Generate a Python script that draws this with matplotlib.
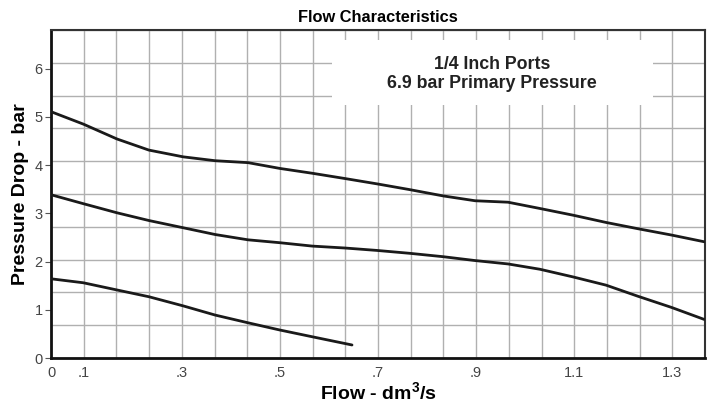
import numpy as np
import matplotlib.pyplot as plt
from matplotlib.patches import Rectangle

plt.rcParams["font.family"] = ["Liberation Sans", "DejaVu Sans"]
plt.rcParams["mathtext.fontset"] = "custom"
plt.rcParams["mathtext.rm"] = "Liberation Sans:bold"
plt.rcParams["mathtext.bf"] = "Liberation Sans:bold"

# Flow in dm3/s, pressure drop in bar
upper_flow = [0.035, 0.099, 0.168, 0.233, 0.303, 0.368, 0.435, 0.500, 0.566, 0.633,
              0.698, 0.765, 0.833, 0.898, 0.965, 1.030, 1.098, 1.165, 1.230, 1.298, 1.365]
upper_drop = [5.10, 4.85, 4.54, 4.31, 4.17, 4.09, 4.05, 3.93, 3.83, 3.72,
              3.61, 3.49, 3.36, 3.26, 3.23, 3.10, 2.96, 2.81, 2.68, 2.55, 2.41]

middle_flow = [0.035, 0.099, 0.168, 0.233, 0.303, 0.368, 0.435, 0.500, 0.566, 0.633,
               0.698, 0.765, 0.833, 0.898, 0.965, 1.030, 1.098, 1.165, 1.230, 1.298, 1.365]
middle_drop = [3.38, 3.20, 3.01, 2.85, 2.70, 2.56, 2.45, 2.39, 2.32, 2.28,
               2.23, 2.17, 2.10, 2.02, 1.95, 1.84, 1.68, 1.51, 1.28, 1.05, 0.80]

lower_flow = [0.035, 0.099, 0.168, 0.233, 0.303, 0.368, 0.435, 0.500, 0.566, 0.647]
lower_drop = [1.64, 1.56, 1.41, 1.27, 1.08, 0.89, 0.73, 0.58, 0.44, 0.27]

x_tick_pos = [1 / 30, 0.1, 0.3, 0.5, 0.7, 0.9, 1.1, 1.3]
x_tick_labels = ["0", ".1", ".3", ".5", ".7", ".9", "1.1", "1.3"]
y_ticks = [0, 1, 2, 3, 4, 5, 6]

x_min, x_max = 1 / 30, 1 / 30 + 20 / 15
y_min, y_max = 0, 6.8

fig = plt.figure(figsize=(7.11, 4.05), dpi=100)
ax = fig.add_axes([51 / 711, 47 / 405, 654 / 711, 328 / 405])

for xs, ys in [(upper_flow, upper_drop), (middle_flow, middle_drop), (lower_flow, lower_drop)]:
    ax.plot(xs, ys, color="#1a1a1a", lw=2.0, solid_capstyle="round",
            solid_joinstyle="round", zorder=3)

ax.set_xlim(x_min, x_max)
ax.set_ylim(y_min, y_max)

ax.xaxis.remove_overlapping_locs = False
ax.yaxis.remove_overlapping_locs = False
ax.set_xticks(x_tick_pos)
ax.set_xticklabels(x_tick_labels)
ax.set_yticks(y_ticks)
ax.set_xticks(np.linspace(x_min, x_max, 21), minor=True)
ax.set_yticks(np.linspace(y_min, y_max, 11), minor=True)
ax.tick_params(axis="x", which="major", length=0, pad=6, labelsize=10.5, labelcolor="#444444")
ax.tick_params(axis="y", which="major", length=4, width=0.8, color="#555555",
               pad=2, labelsize=10.5, labelcolor="#444444")
ax.tick_params(which="minor", length=0)
ax.set_axisbelow(True)
ax.grid(which="minor", color="#b0b0b0", lw=1.0)
ax.grid(which="major", visible=False)

# white box behind the note
ax.add_patch(Rectangle((0.43, 0.771), 0.49, 0.199, transform=ax.transAxes,
                       facecolor="white", edgecolor="none", zorder=1))
ax.text(0.674, 0.866, "1/4 Inch Ports\n6.9 bar Primary Pressure", transform=ax.transAxes,
        ha="center", va="center", fontsize=12.8, fontweight="bold", color="#222222",
        linespacing=1.2, zorder=2)

for side in ["left", "bottom"]:
    ax.spines[side].set_linewidth(2.0)
    ax.spines[side].set_color("#111111")
for side in ["top", "right"]:
    ax.spines[side].set_linewidth(1.5)
    ax.spines[side].set_color("#333333")

ax.set_title("Flow Characteristics", fontsize=11.8, fontweight="bold", pad=6)
ax.set_ylabel("Pressure Drop - bar", fontsize=14, fontweight="bold", labelpad=4)
ax.set_xlabel(r"Flow - dm$^{3}$/s", fontsize=14, fontweight="bold", labelpad=1)

fig.savefig("out.png", dpi=100)
